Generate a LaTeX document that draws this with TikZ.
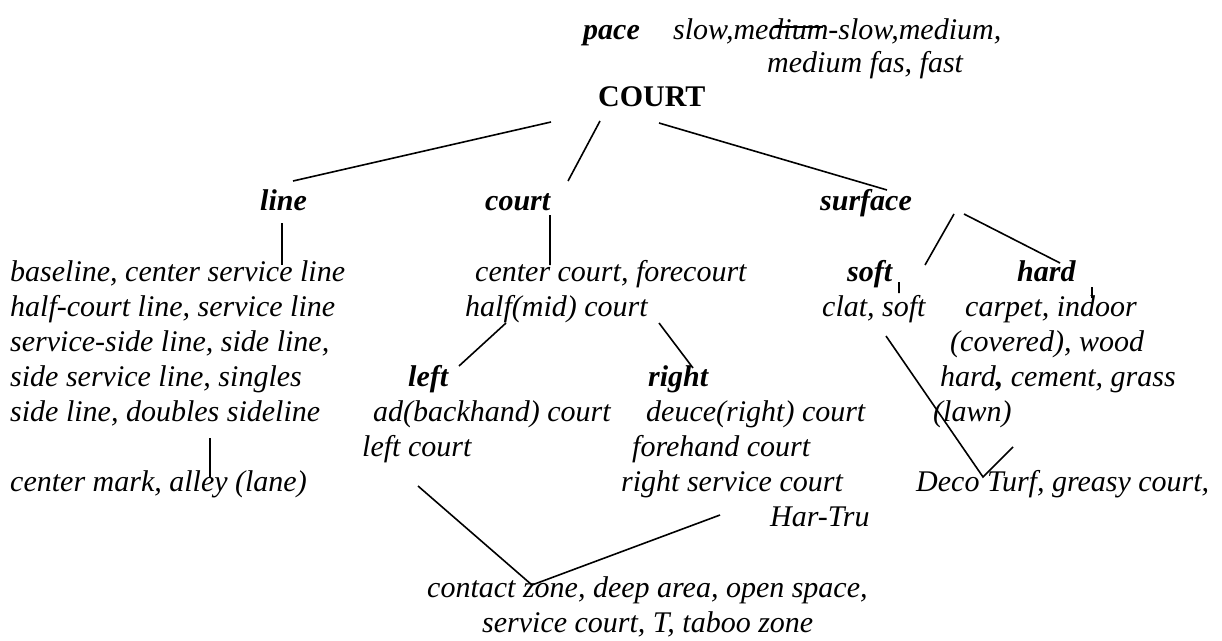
\documentclass[tikz,border=0pt]{standalone}
\usepackage{fontspec}
\setmainfont{Liberation Serif}

\def\rowSkip{35}
\def\leftColX{10}

\tikzset{
    word/.style = {anchor = base west, inner sep = 0pt,
        font = \fontsize{30}{35}\selectfont\itshape},
    head/.style = {word, font = \fontsize{30}{35}\selectfont\bfseries\itshape},
    twig/.style = {line width = 1.6pt},
}

\begin{document}
\begin{tikzpicture}[x = 1pt, y = -1pt]
            \useasboundingbox (0,0) rectangle (1222,640);
            %% top
            \node [head] (pace) at (583,39) {pace};
            \node [word] (paceA) at (673,39) {slow,medium-slow,medium,};
            \node [word] (paceB) at (767,72) {medium fas, fast};
            \node [anchor = base west, inner sep = 0pt,
                font = \fontsize{30}{35}\selectfont\bfseries]
            (court) at (598,106) {COURT};
            \draw [twig] (773,27) coordinate (dumA) -- (823,27) coordinate (dumB);
            %% second level
            \node [head] (line) at (260,210) {line};
            \node [head] (courtpart) at (485,210) {court};
            \node [head] (surface) at (820,210) {surface};
            \draw [twig]
            (551,122) coordinate (courtL) -- (293,181) coordinate (lineT)
            (600,121) coordinate (courtM) -- (568,181) coordinate (courtpartT)
            (659,123) coordinate (courtR) -- (887,190) coordinate (surfaceT)
            ;
            %% line
            \foreach \txt [count = \i] in {
                {baseline, center service line},
                {half-court line, service line},
                {service-side line, side line,},
                {side service line, singles},
                {side line, doubles sideline}} {
                \node [word] (linerow\i) at (\leftColX,{246+\rowSkip*\i}) {\txt};
            }
            \node [word] (linemark) at (\leftColX,491) {center mark, alley (lane)};
            \draw [twig]
            (282,223) coordinate (lineB) -- (282,265) coordinate (linerowT)
            (210,438) coordinate (linerowB) -- (210,477) coordinate (linemarkT)
            ;
            %% court
            \node [word] (centercourt) at (475,281) {center court, forecourt};
            \node [word] (halfcourt) at (465,316) {half(mid) court};
            \node [head] (left) at (408,386) {left};
            \node [head] (right) at (648,386) {right};
            \node [word] (adcourt) at (373,421) {ad(backhand) court};
            \node [word] (leftcourt) at (362,456) {left court};
            \node [word] (deucecourt) at (646,421) {deuce(right) court};
            \node [word] (forecourt) at (632,456) {forehand court};
            \node [word] (servicecourt) at (621,491) {right service court};
            \node [word] (hartru) at (770,526) {Har-Tru};
            \node [word] (zoneA) at (427,597) {contact zone, deep area, open space,};
            \node [word] (zoneB) at (482,632) {service court, T, taboo zone};
            \draw [twig]
            (550,215) coordinate (courtpartB) -- (550,265) coordinate (centercourtT)
            (506,323) coordinate (halfcourtL) -- (459,366) coordinate (leftT)
            (659,323) coordinate (halfcourtR) -- (693,368) coordinate (rightT)
            (418,486) coordinate (leftcourtB) -- (532,585) coordinate (zoneT)
            -- (720,515) coordinate (servicecourtB)
            ;
            %% surface
            \node [head] (soft) at (847,281) {soft};
            \node [head] (hard) at (1017,281) {hard};
            \node [word] (softlist) at (822,316) {clat, soft};
            \node [word] (hardA) at (965,316) {carpet, indoor};
            \node [word] (hardB) at (950,351) {(covered), wood};
            \node [word] (hardC) at (940,386) {hard{\bfseries,} cement, grass};
            \node [word] (hardD) at (933,421) {(lawn)};
            \node [word] (deco) at (916,491) {Deco Turf, greasy court,};
            \draw [twig]
            (954,214) coordinate (surfaceL) -- (925,265) coordinate (softT)
            (964,214) coordinate (surfaceR) -- (1060,263) coordinate (hardT)
            (899,282) coordinate (softB) -- (899,293) coordinate (softlistT)
            (1092,287) coordinate (hardTick) -- (1092,298) coordinate (hardAT)
            (886,336) coordinate (softlistB) -- (983,477) coordinate (decoT)
            -- (1013,447) coordinate (decoR)
            ;
        \end{tikzpicture}
\end{document}
